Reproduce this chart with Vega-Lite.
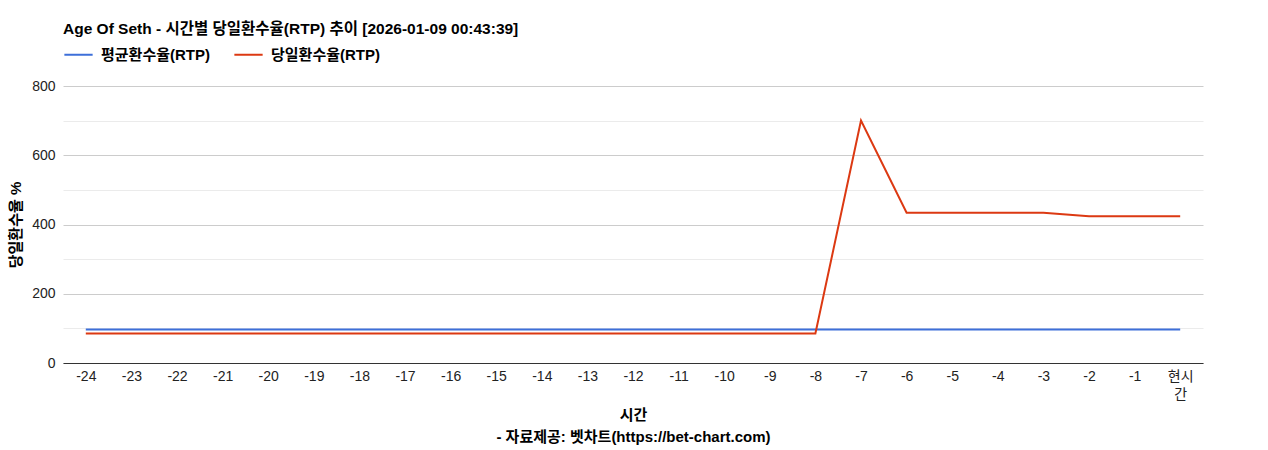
{
  "$schema": "https://vega.github.io/schema/vega-lite/v6.json",
  "width": 1140,
  "height": 277,
  "autosize": {"type": "none"},
  "padding": {"left": 63, "top": 86, "right": 65, "bottom": 87},
  "background": "white",
  "title": {
    "text": "Age Of Seth - 시간별 당일환수율(RTP) 추이 [2026-01-09 00:43:39]",
    "anchor": "start",
    "frame": "group",
    "font": "Liberation Sans, Noto Sans CJK KR",
    "fontSize": 15.5,
    "fontWeight": "bold",
    "color": "#000000",
    "offset": 2
  },
  "data": {
    "values": [
      {"t": "-24", "s": "평균환수율(RTP)", "v": 97},
      {"t": "-23", "s": "평균환수율(RTP)", "v": 97},
      {"t": "-22", "s": "평균환수율(RTP)", "v": 97},
      {"t": "-21", "s": "평균환수율(RTP)", "v": 97},
      {"t": "-20", "s": "평균환수율(RTP)", "v": 97},
      {"t": "-19", "s": "평균환수율(RTP)", "v": 97},
      {"t": "-18", "s": "평균환수율(RTP)", "v": 97},
      {"t": "-17", "s": "평균환수율(RTP)", "v": 97},
      {"t": "-16", "s": "평균환수율(RTP)", "v": 97},
      {"t": "-15", "s": "평균환수율(RTP)", "v": 97},
      {"t": "-14", "s": "평균환수율(RTP)", "v": 97},
      {"t": "-13", "s": "평균환수율(RTP)", "v": 97},
      {"t": "-12", "s": "평균환수율(RTP)", "v": 97},
      {"t": "-11", "s": "평균환수율(RTP)", "v": 97},
      {"t": "-10", "s": "평균환수율(RTP)", "v": 97},
      {"t": "-9", "s": "평균환수율(RTP)", "v": 97},
      {"t": "-8", "s": "평균환수율(RTP)", "v": 97},
      {"t": "-7", "s": "평균환수율(RTP)", "v": 97},
      {"t": "-6", "s": "평균환수율(RTP)", "v": 97},
      {"t": "-5", "s": "평균환수율(RTP)", "v": 97},
      {"t": "-4", "s": "평균환수율(RTP)", "v": 97},
      {"t": "-3", "s": "평균환수율(RTP)", "v": 97},
      {"t": "-2", "s": "평균환수율(RTP)", "v": 97},
      {"t": "-1", "s": "평균환수율(RTP)", "v": 97},
      {"t": "현시간", "s": "평균환수율(RTP)", "v": 97},
      {"t": "-24", "s": "당일환수율(RTP)", "v": 85},
      {"t": "-23", "s": "당일환수율(RTP)", "v": 85},
      {"t": "-22", "s": "당일환수율(RTP)", "v": 85},
      {"t": "-21", "s": "당일환수율(RTP)", "v": 85},
      {"t": "-20", "s": "당일환수율(RTP)", "v": 85},
      {"t": "-19", "s": "당일환수율(RTP)", "v": 85},
      {"t": "-18", "s": "당일환수율(RTP)", "v": 85},
      {"t": "-17", "s": "당일환수율(RTP)", "v": 85},
      {"t": "-16", "s": "당일환수율(RTP)", "v": 85},
      {"t": "-15", "s": "당일환수율(RTP)", "v": 85},
      {"t": "-14", "s": "당일환수율(RTP)", "v": 85},
      {"t": "-13", "s": "당일환수율(RTP)", "v": 85},
      {"t": "-12", "s": "당일환수율(RTP)", "v": 85},
      {"t": "-11", "s": "당일환수율(RTP)", "v": 85},
      {"t": "-10", "s": "당일환수율(RTP)", "v": 85},
      {"t": "-9", "s": "당일환수율(RTP)", "v": 85},
      {"t": "-8", "s": "당일환수율(RTP)", "v": 85},
      {"t": "-7", "s": "당일환수율(RTP)", "v": 700},
      {"t": "-6", "s": "당일환수율(RTP)", "v": 434},
      {"t": "-5", "s": "당일환수율(RTP)", "v": 434},
      {"t": "-4", "s": "당일환수율(RTP)", "v": 434},
      {"t": "-3", "s": "당일환수율(RTP)", "v": 434},
      {"t": "-2", "s": "당일환수율(RTP)", "v": 424},
      {"t": "-1", "s": "당일환수율(RTP)", "v": 424},
      {"t": "현시간", "s": "당일환수율(RTP)", "v": 424}
    ]
  },
  "mark": {"type": "line", "strokeWidth": 2},
  "encoding": {
    "x": {
      "field": "t",
      "type": "nominal",
      "sort": null,
      "scale": {"type": "point", "padding": 0.5},
      "axis": {
        "labelAngle": 0,
        "ticks": false,
        "grid": false,
        "domainColor": "#333333",
        "labelFont": "Liberation Sans, Noto Sans CJK KR",
        "labelFontSize": 14,
        "labelColor": "#222222",
        "labelPadding": 6,
        "labelLineHeight": 18,
        "labelExpr": "datum.label == '현시간' ? ['현시', '간'] : datum.label",
        "title": ["시간", "- 자료제공: 벳차트(https://bet-chart.com)"],
        "titleFont": "Liberation Sans, Noto Sans CJK KR",
        "titleFontSize": 15,
        "titleFontWeight": "bold",
        "titleColor": "#000000",
        "titleLineHeight": 22,
        "titlePadding": 6
      }
    },
    "y": {
      "field": "v",
      "type": "quantitative",
      "scale": {"domain": [0, 800], "nice": false},
      "axis": {
        "values": [0, 100, 200, 300, 400, 500, 600, 700, 800],
        "labelExpr": "datum.value % 200 == 0 ? datum.label : ''",
        "gridColor": {"condition": {"test": "datum.value % 200 == 0", "value": "#cccccc"}, "value": "#ebebeb"},
        "domain": false,
        "ticks": false,
        "labelFont": "Liberation Sans",
        "labelFontSize": 14,
        "labelColor": "#222222",
        "labelPadding": 8,
        "title": "당일환수율 %",
        "titleFont": "Liberation Sans, Noto Sans CJK KR",
        "titleFontSize": 15,
        "titleFontWeight": "bold",
        "titleColor": "#000000",
        "titlePadding": 8
      }
    },
    "color": {
      "field": "s",
      "type": "nominal",
      "scale": {"domain": ["평균환수율(RTP)", "당일환수율(RTP)"], "range": ["#3d6fd9", "#dc3912"]},
      "legend": {
        "title": null,
        "orient": "none",
        "direction": "horizontal",
        "legendX": 0,
        "legendY": -47,
        "symbolType": "stroke",
        "symbolSize": 800,
        "symbolStrokeWidth": 2,
        "labelFont": "Liberation Sans, Noto Sans CJK KR",
        "labelFontSize": 15,
        "labelFontWeight": "bold",
        "labelColor": "#000000",
        "labelOffset": 7,
        "columnPadding": 20
      }
    }
  },
  "config": {"view": {"stroke": null}}
}
